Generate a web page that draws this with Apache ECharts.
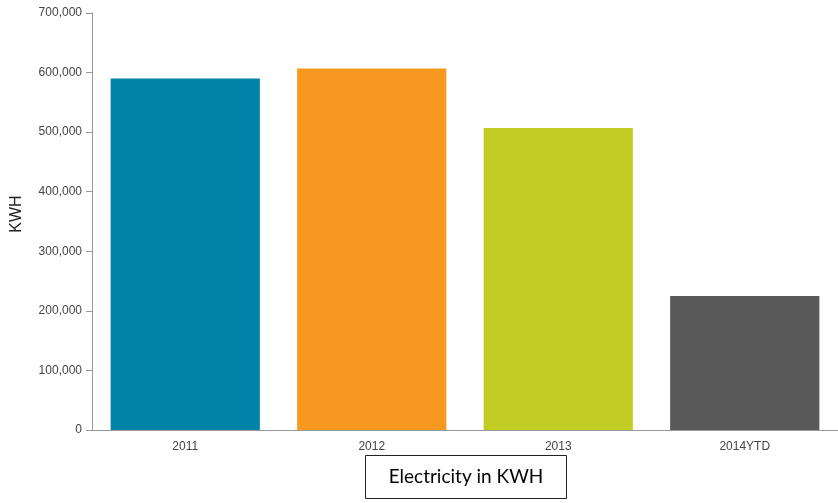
<!DOCTYPE html>
<html><head><meta charset="utf-8">
<script src="https://cdn.jsdelivr.net/npm/echarts@6/dist/echarts.min.js"></script>
<style>html,body{margin:0;padding:0;background:#fff}#c{width:838px;height:503px}</style>
</head><body><div id="c"></div>
<script>
const categories = ['2011', '2012', '2013', '2014YTD'];
const values = [590000, 607000, 507000, 225000];
const barColors = ['#0083a9', '#f7981f', '#c2cd23', '#595959'];
const yAxisName = 'KWH';
const caption = 'Electricity in KWH';

const chart = echarts.init(document.getElementById('c'));
chart.setOption({
  animation: false,
  grid: { left: 92, right: 0, top: 13, bottom: 73 },
  xAxis: {
    type: 'category', data: categories,
    axisLine: { lineStyle: { color: '#999', width: 1 } },
    axisTick: { show: false },
    axisLabel: { color: '#444', fontFamily: 'Liberation Sans', fontSize: 12, margin: 11 }
  },
  yAxis: {
    type: 'value', min: 0, max: 700000, interval: 100000,
    axisLine: { show: true, lineStyle: { color: '#999', width: 1 } },
    axisTick: { show: true, length: 6, lineStyle: { color: '#999' } },
    splitLine: { show: false },
    axisLabel: {
      color: '#444', fontFamily: 'Liberation Sans', fontSize: 12, margin: 10,
      formatter: v => v.toLocaleString('en-US')
    }
  },
  series: [{
    type: 'bar', barWidth: '80%',
    data: values.map((v, i) => ({ value: v, itemStyle: { color: barColors[i] } }))
  }],
  graphic: [
    { type: 'text', x: 17, y: 214, rotation: Math.PI / 2,
      style: { text: yAxisName, fill: '#222', font: '16px "Liberation Sans"', align: 'center', verticalAlign: 'middle' } },
    {
    type: 'group', left: 365, top: 455,
    children: [
      { type: 'rect', shape: { x: 0, y: 0, width: 201, height: 43 },
        style: { fill: '#fff', stroke: '#222', lineWidth: 1 } },
      { type: 'text', x: 100.5, y: 21.5,
        style: { text: caption, fill: '#000', font: '19px Lato', align: 'center', verticalAlign: 'middle' } }
    ]
  }]
});
</script></body></html>
